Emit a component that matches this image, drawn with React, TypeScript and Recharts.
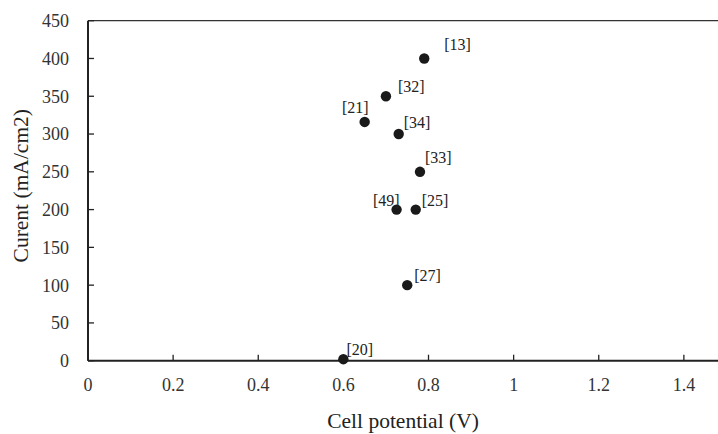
import React from 'react';
import {
  ScatterChart,
  Scatter,
  XAxis,
  YAxis,
  ReferenceLine,
  Label
} from 'recharts';

// source references, cell potential (V) and current (mA/cm2) per point
const refs = ['[13]', '[32]', '[21]', '[34]', '[33]', '[49]', '[25]', '[27]', '[20]'];
const cellPotential = [0.79, 0.7, 0.65, 0.73, 0.78, 0.725, 0.77, 0.75, 0.6];
const current = [400, 350, 316, 300, 250, 200, 200, 100, 2];

const xTicks = [0, 0.2, 0.4, 0.6, 0.8, 1, 1.2, 1.4];
const yTicks = [0, 50, 100, 150, 200, 250, 300, 350, 400, 450];

// where each reference tag sits relative to its dot
const labelPlacement: Record<string, { dx: number; dy: number; anchor: 'start' | 'end' }> = {
  '[13]': { dx: 20, dy: -14, anchor: 'start' },
  '[32]': { dx: 12, dy: -10, anchor: 'start' },
  '[21]': { dx: 4, dy: -15, anchor: 'end' },
  '[34]': { dx: 5, dy: -12, anchor: 'start' },
  '[33]': { dx: 5, dy: -14, anchor: 'start' },
  '[49]': { dx: 3, dy: -9, anchor: 'end' },
  '[25]': { dx: 6, dy: -9, anchor: 'start' },
  '[27]': { dx: 7, dy: -10, anchor: 'start' },
  '[20]': { dx: 3, dy: -10, anchor: 'start' },
};

const data = refs.map((ref, i) => ({ ref, x: cellPotential[i], y: current[i] }));

const FONT = 'Liberation Serif';
const INK = '#222';

const Dot = (props: any) => {
  const { cx, cy, payload } = props;
  const p = labelPlacement[payload.ref] || { dx: 5, dy: -10, anchor: 'start' };
  return (
    <g>
      <circle cx={cx} cy={cy} r={5.2} fill="#1a1a1a" />
      <text
        x={cx + p.dx}
        y={cy + p.dy}
        dy="0.35em"
        textAnchor={p.anchor}
        fontFamily={FONT}
        fontSize={16}
        fill={INK}
      >
        {payload.ref}
      </text>
    </g>
  );
};

const tickStyle = { fontFamily: FONT, fontSize: 18, fill: '#333' };

export default function App() {
  return (
    <div style={{ position: 'absolute', left: 0, top: 0, width: 718, height: 434, overflow: 'hidden', background: '#fff' }}>
      <ScatterChart width={769} height={434} margin={{ top: 20.7, right: 0, bottom: 0, left: 0 }}>
        <XAxis
          type="number"
          dataKey="x"
          domain={[0, 1.6]}
          ticks={xTicks}
          height={73.3}
          axisLine={{ stroke: INK, strokeWidth: 2 }}
          tickLine={{ stroke: INK, strokeWidth: 1.3 }}
          tickSize={-6}
          tickMargin={24}
          tick={tickStyle}
        >
          <Label
            content={(props: any) => {
              const vb = props.viewBox;
              return (
                <text x={403} y={vb.y + 60} dy="0.35em" textAnchor="middle" fontFamily={FONT} fontSize={21.5} fill={INK}>
                  Cell potential (V)
                </text>
              );
            }}
          />
        </XAxis>
        <YAxis
          type="number"
          dataKey="y"
          domain={[0, 450]}
          ticks={yTicks}
          width={88}
          axisLine={{ stroke: INK, strokeWidth: 2 }}
          tickLine={{ stroke: INK, strokeWidth: 1.3 }}
          tickSize={-6}
          tickMargin={25}
          tick={tickStyle}
        >
          <Label
            content={(props: any) => {
              const vb = props.viewBox;
              const cx = 20;
              const cy = vb.y + vb.height / 2 - 5;
              return (
                <text
                  x={cx}
                  y={cy}
                  dy="0.35em"
                  textAnchor="middle"
                  transform={`rotate(-90, ${cx}, ${cy})`}
                  fontFamily={FONT}
                  fontSize={21.5}
                  fill={INK}
                >
                  Curent (mA/cm2)
                </text>
              );
            }}
          />
        </YAxis>
        <ReferenceLine y={450} stroke="#333" strokeWidth={1.3} />
        <Scatter data={data} shape={<Dot />} isAnimationActive={false} />
      </ScatterChart>
    </div>
  );
}
